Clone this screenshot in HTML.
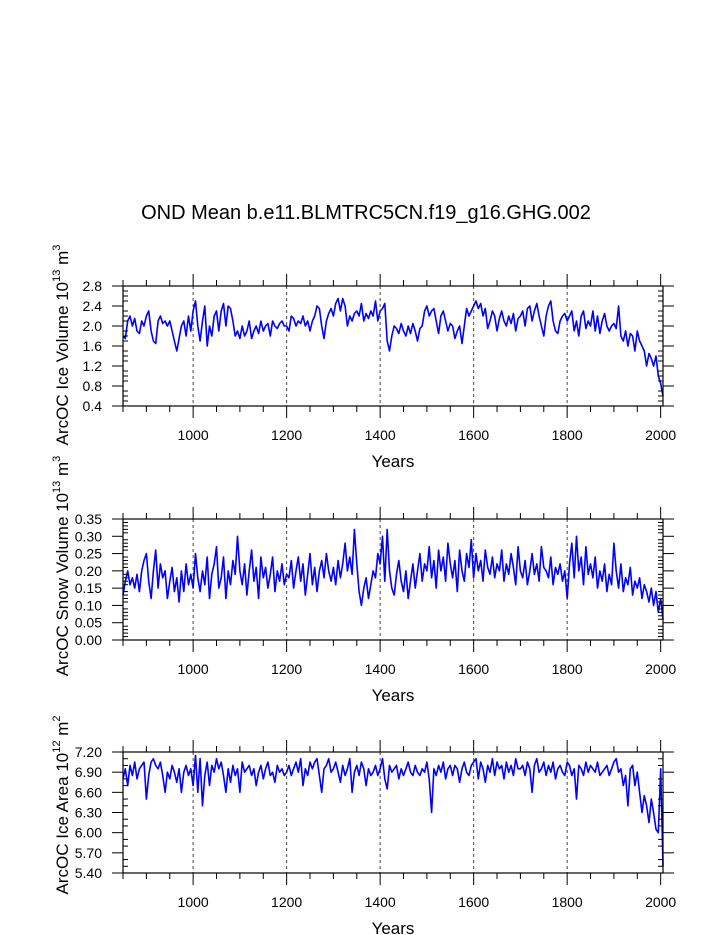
<!DOCTYPE html>
<html><head><meta charset="utf-8"><style>
html,body{margin:0;padding:0;background:#fff;}
svg{display:block;font-family:"Liberation Sans",Arial,sans-serif;}
</style></head><body>
<svg id="chart" width="723" height="935" viewBox="0 0 723 935" xmlns="http://www.w3.org/2000/svg">
<text x="366" y="219" font-size="20" text-anchor="middle">OND Mean b.e11.BLMTRC5CN.f19_g16.GHG.002</text>
</svg>
<script>
const startYear = 850;
const stepYears = 5;
const xTicks = [1000, 1200, 1400, 1600, 1800, 2000];
const iceVolume = [1.8,1.75,2.1,2.2,2.0,2.15,1.9,1.85,2.1,2.0,2.2,
2.3,1.9,1.7,1.65,2.1,2.2,2.05,2.1,2.0,2.1,
1.9,1.7,1.5,1.75,2.0,2.1,1.8,2.2,1.9,2.3,
2.5,2.0,1.7,2.1,2.4,1.6,2.0,1.8,2.2,2.3,
1.9,2.3,2.45,2.0,2.4,2.35,2.1,1.8,1.9,1.75,
2.0,1.8,1.9,2.1,1.75,1.9,2.0,1.85,2.1,1.9,
2.0,2.05,1.8,2.1,2.0,1.95,2.05,2.1,2.0,2.0,
1.9,2.2,2.15,2.0,2.1,2.05,2.2,2.0,2.1,1.9,
2.1,2.2,2.4,2.35,2.0,1.75,2.1,2.25,2.35,2.2,
2.45,2.55,2.3,2.55,2.4,2.0,2.2,2.1,2.25,2.3,
2.2,2.45,2.1,2.25,2.15,2.3,2.2,2.5,2.1,2.3,
2.35,2.45,1.7,1.5,1.8,2.0,1.95,1.85,2.05,1.9,
1.8,2.0,1.85,2.05,1.9,1.7,1.95,2.0,2.3,2.4,
2.2,2.3,2.35,2.1,1.85,2.2,2.3,2.1,1.9,2.05,
2.0,1.75,1.9,2.0,1.65,2.0,2.35,2.2,2.3,2.4,
2.5,2.35,2.45,2.2,2.35,1.95,2.1,2.3,2.2,1.9,
2.15,2.3,2.1,2.0,2.2,2.05,2.25,1.9,2.15,2.2,
2.3,2.0,2.35,2.4,2.1,2.3,2.45,2.2,2.0,1.8,
2.2,2.4,2.5,2.1,1.9,1.85,2.1,2.2,2.25,2.1,
2.2,2.3,1.9,2.1,1.8,2.2,2.3,1.95,2.1,2.0,
2.3,1.9,2.2,1.85,2.1,2.25,2.0,1.9,2.0,2.05,
1.95,2.4,1.8,1.7,1.9,1.6,1.85,1.8,1.5,1.9,
1.7,1.6,1.5,1.2,1.45,1.35,1.2,1.4,1.0,0.85,0.6];
const snowVolume = [.13,.17,.2,.16,.18,.15,.19,.14,.2,.23,.25,
.17,.12,.2,.26,.15,.22,.18,.2,.12,.17,
.21,.14,.18,.11,.2,.14,.22,.16,.19,.15,
.25,.18,.14,.2,.16,.24,.12,.19,.22,.27,
.15,.18,.24,.12,.2,.16,.23,.19,.3,.2,
.16,.22,.13,.2,.26,.17,.21,.12,.24,.18,
.21,.15,.19,.24,.14,.2,.17,.22,.16,.19,
.18,.23,.15,.2,.24,.17,.22,.13,.19,.25,
.16,.21,.14,.2,.23,.18,.25,.2,.17,.21,
.16,.23,.18,.22,.28,.2,.24,.19,.32,.22,
.14,.1,.15,.18,.12,.16,.2,.18,.25,.22,
.3,.17,.32,.2,.15,.13,.19,.23,.17,.14,
.2,.12,.17,.22,.15,.2,.25,.17,.22,.2,
.27,.18,.23,.15,.26,.2,.24,.17,.28,.22,
.18,.23,.14,.26,.2,.17,.25,.21,.29,.18,
.25,.2,.23,.17,.26,.21,.19,.24,.18,.22,
.2,.26,.17,.22,.19,.25,.21,.16,.27,.2,
.18,.23,.16,.2,.25,.19,.22,.17,.27,.21,
.2,.18,.24,.16,.21,.19,.22,.17,.2,.12,
.22,.28,.18,.3,.2,.24,.16,.27,.19,.22,
.18,.24,.15,.2,.17,.22,.14,.19,.16,.28,
.2,.15,.22,.14,.18,.16,.21,.13,.17,.15,
.18,.12,.16,.14,.11,.15,.1,.14,.08,.12,.06];
const iceArea = [6.8,6.95,6.7,7.0,6.85,7.05,6.8,6.95,7.0,7.05,6.5,
6.85,7.05,7.1,7.0,6.95,7.05,6.85,6.6,6.9,6.8,
7.0,6.9,6.75,6.95,6.6,6.9,7.0,6.85,6.95,6.7,
7.15,6.6,7.1,6.4,6.85,7.05,6.7,7.0,6.9,7.1,
6.95,7.05,6.85,6.6,6.95,6.75,7.0,6.85,6.95,6.6,
7.05,6.9,6.95,7.0,6.85,6.95,6.7,6.9,7.0,6.8,
6.95,7.05,6.85,6.9,6.75,7.0,6.9,6.95,6.85,6.9,
7.0,6.85,6.95,7.05,6.9,7.1,6.7,6.95,6.85,7.05,
6.95,7.05,7.1,6.85,6.6,6.95,7.0,7.1,6.9,6.95,
7.05,6.9,6.75,7.0,6.85,6.95,7.1,6.6,6.9,7.0,
6.85,7.05,6.95,6.7,6.95,6.85,6.9,7.0,6.85,6.95,
7.1,6.8,6.65,7.0,6.9,6.95,7.0,6.8,6.95,6.85,
6.95,7.05,6.9,6.85,7.0,6.9,6.85,6.95,6.9,7.05,
6.8,6.3,6.95,6.85,7.0,6.9,7.05,6.8,6.95,7.0,
6.85,7.0,6.95,6.75,6.95,7.05,6.9,6.85,7.0,7.05,
7.1,6.8,7.05,6.95,6.75,7.0,6.9,7.1,6.85,7.05,
6.95,7.0,6.8,7.05,6.9,7.0,6.85,7.1,6.95,6.95,
7.0,6.85,7.05,6.95,6.6,7.0,7.1,6.9,6.95,7.05,
6.85,7.0,6.9,7.05,6.8,6.95,7.0,6.9,6.85,7.05,
7.0,6.85,6.95,6.5,7.0,6.95,6.85,7.05,6.9,7.0,
6.95,6.9,7.05,6.85,6.9,6.95,7.0,6.85,6.95,7.05,
7.1,6.9,6.95,6.7,6.85,6.4,6.95,7.0,6.7,6.9,
6.6,6.3,6.55,6.4,6.15,6.5,6.3,6.05,6.0,6.95,5.5];
const yTicks1 = ["0.4","0.8","1.2","1.6","2.0","2.4","2.8"];
const yTicks2 = ["0.00","0.05","0.10","0.15","0.20","0.25","0.30","0.35"];
const yTicks3 = ["5.40","5.70","6.00","6.30","6.60","6.90","7.20"];

const svg = document.getElementById('chart');
const NS = 'http://www.w3.org/2000/svg';
const X0 = 123, X1 = 663, YR0 = 850, YR1 = 2005;
function xs(yr){ return X0 + (yr - YR0) / (YR1 - YR0) * (X1 - X0); }
function mk(tag, attrs){ const e = document.createElementNS(NS, tag); for (const k in attrs) e.setAttribute(k, attrs[k]); svg.appendChild(e); return e; }

const panels = [
 {key:'ice-volume', top:286, bot:406, data:iceVolume, ticks:yTicks1, minor:0.1, title:['ArcOC Ice Volume 10','13',' m','3'], tcy:345},
 {key:'snow-volume', top:519, bot:640, data:snowVolume, ticks:yTicks2, minor:0.01, title:['ArcOC Snow Volume 10','13',' m','3'], tcy:566},
 {key:'ice-area', top:752, bot:873, data:iceArea, ticks:yTicks3, minor:0.1, title:['ArcOC Ice Area 10','12',' m','2'], tcy:805}
];

panels.forEach(p => {
  const lo = parseFloat(p.ticks[0]), hi = parseFloat(p.ticks[p.ticks.length-1]);
  const ys = v => p.bot - (v - lo) / (hi - lo) * (p.bot - p.top);
  xTicks.slice(0, -1).forEach(t => {
    const g = mk('line', {x1:xs(t), x2:xs(t), y1:p.top, y2:p.bot, stroke:'#444', 'stroke-width':1, 'stroke-dasharray':'3,3'});
    
    
  });
  let d = '';
  p.data.forEach((v, i) => { d += (i ? 'L' : 'M') + xs(startYear + i * stepYears).toFixed(1) + ',' + ys(v).toFixed(1); });
  const path = mk('path', {d:d, fill:'none', stroke:'#0000ff', 'stroke-width':1.6, 'stroke-linejoin':'round'});
  
  
  const fr = mk('rect', {x:X0, y:p.top, width:X1-X0, height:p.bot-p.top, fill:'none', stroke:'#000', 'stroke-width':1.2});
  
  
  for (let yr = 850; yr <= 2005; yr += 50) {
    const major = yr % 200 === 0;
    const len = major ? 12 : 6;
    mk('line', {x1:xs(yr), x2:xs(yr), y1:p.top, y2:p.top-len, stroke:'#000', 'stroke-width':1});
    mk('line', {x1:xs(yr), x2:xs(yr), y1:p.bot, y2:p.bot+len, stroke:'#000', 'stroke-width':1});
  }
  xTicks.forEach(t => {
    const tl = mk('text', {x:xs(t), y:p.bot+34, 'font-size':14, 'text-anchor':'middle'});
    tl.textContent = t;
    
    
  });
  const xt = mk('text', {x:393, y:p.bot+61, 'font-size':17, 'text-anchor':'middle'});
  xt.textContent = 'Years';
  
  
  const nMinor = Math.round((hi - lo) / p.minor);
  const majorStep = (hi - lo) / (p.ticks.length - 1);
  for (let k = 0; k <= nMinor; k++) {
    const v = lo + k * p.minor;
    const isMaj = Math.abs(((v - lo) / majorStep) - Math.round((v - lo) / majorStep)) < 1e-6;
    if (isMaj) {
      mk('line', {x1:X0, x2:X0-11, y1:ys(v), y2:ys(v), stroke:'#000', 'stroke-width':1});
      mk('line', {x1:X1, x2:X1+11, y1:ys(v), y2:ys(v), stroke:'#000', 'stroke-width':1});
    } else {
      mk('line', {x1:X0, x2:X0+5, y1:ys(v), y2:ys(v), stroke:'#000', 'stroke-width':1});
      mk('line', {x1:X1, x2:X1-5, y1:ys(v), y2:ys(v), stroke:'#000', 'stroke-width':1});
    }
  }
  p.ticks.forEach(t => {
    const tl = mk('text', {x:102, y:ys(parseFloat(t))+5, 'font-size':14, 'text-anchor':'end'});
    tl.textContent = t;
    
    
  });
  const yt = mk('text', {x:0, y:0, 'font-size':17, 'text-anchor':'middle', transform:'translate(68,' + p.tcy + ') rotate(-90)'});
  
  
  p.title.forEach((s, i) => {
    const ts = document.createElementNS(NS, 'tspan');
    ts.textContent = s;
    if (i % 2 === 1) { ts.setAttribute('font-size', '11'); ts.setAttribute('dy', '-8'); }
    else if (i > 0) { ts.setAttribute('dy', '8'); }
    yt.appendChild(ts);
  });
});
</script>
</body></html>
